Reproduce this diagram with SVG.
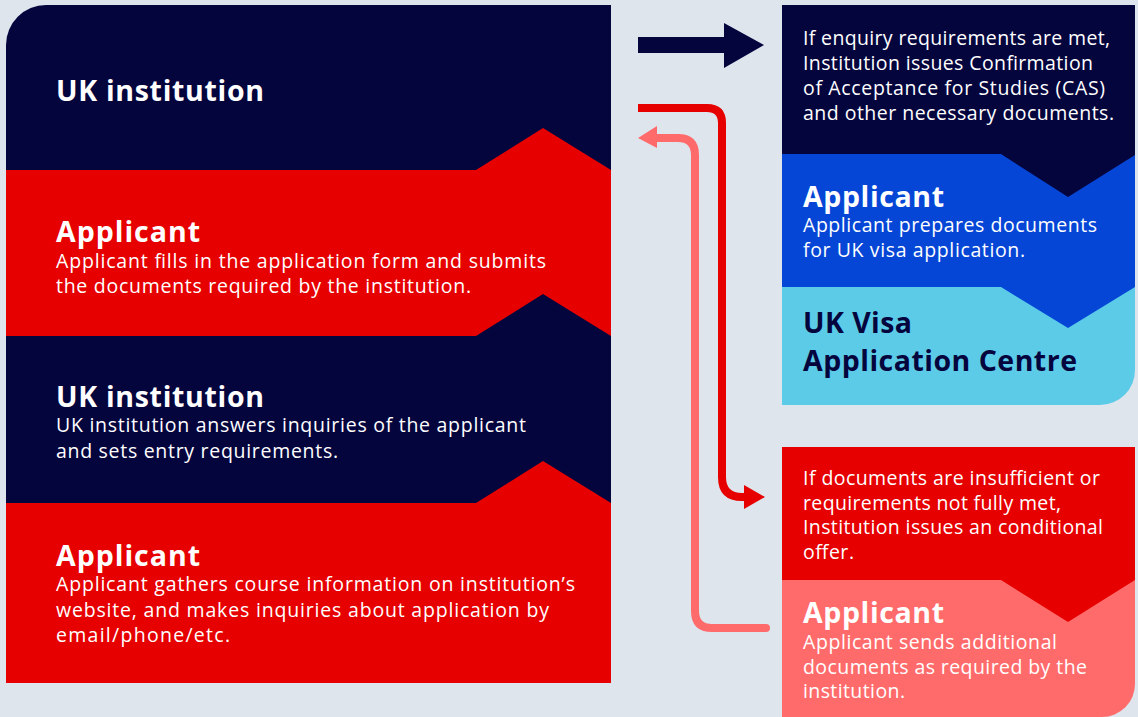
<svg xmlns="http://www.w3.org/2000/svg" width="1138" height="717" viewBox="0 0 1138 717">
<style>
.t{font-family:"Open Sans","Liberation Sans",sans-serif;}
.h{font-size:28.5px;font-weight:700;}
.b{font-size:19.5px;font-weight:400;}
.w{fill:#ffffff;}
.n{fill:#05053e;}
</style>
<rect width="1138" height="717" fill="#dee5ed"/>
<g id="left-column">
  <g id="node-uk-institution-top">
    <path d="M6,683 V45 A40,40 0 0 1 46,5 H611 V683 Z" fill="#05053e"/>
    <text class="t h w" x="56" y="101" textLength="208" lengthAdjust="spacing">UK institution</text>
  </g>
  <g id="node-applicant-submit">
    <path d="M6,170 H476 L543,128 L611,170 V336 L543,294 L476,336 H6 Z" fill="#e60000"/>
    <text class="t h w" x="56" y="242" textLength="144" lengthAdjust="spacing">Applicant</text>
    <text class="t b w" x="56" y="268" textLength="490" lengthAdjust="spacing">Applicant fills in the application form and submits</text>
    <text class="t b w" x="56" y="293" textLength="415" lengthAdjust="spacing">the documents required by the institution.</text>
  </g>
  <g id="node-uk-institution-answers">
    <text class="t h w" x="56" y="407" textLength="208" lengthAdjust="spacing">UK institution</text>
    <text class="t b w" x="56" y="432" textLength="470" lengthAdjust="spacing">UK institution answers inquiries of the applicant</text>
    <text class="t b w" x="56" y="457.5" textLength="282" lengthAdjust="spacing">and sets entry requirements.</text>
  </g>
  <g id="node-applicant-gathers">
    <path d="M6,503 H476 L543,461 L611,503 V683 H6 Z" fill="#e60000"/>
    <text class="t h w" x="56" y="566" textLength="144" lengthAdjust="spacing">Applicant</text>
    <text class="t b w" x="56" y="591" textLength="519" lengthAdjust="spacing">Applicant gathers course information on institution’s</text>
    <text class="t b w" x="56" y="616.5" textLength="493" lengthAdjust="spacing">website, and makes inquiries about application by</text>
    <text class="t b w" x="56" y="641.5" textLength="174" lengthAdjust="spacing">email/phone/etc.</text>
  </g>
</g>
<g id="right-top">
  <g id="node-visa-centre">
    <path d="M782,5 H1135 V370 A35,35 0 0 1 1100,405 H782 Z" fill="#5bcbe8"/>
    <text class="t h n" x="803" y="333" textLength="109" lengthAdjust="spacing">UK Visa</text>
    <text class="t h n" x="803" y="371" textLength="274" lengthAdjust="spacing">Application Centre</text>
  </g>
  <g id="node-applicant-prepares">
    <path d="M782,154 H1135 V287 L1068,328 L1001,287 H782 Z" fill="#0546d6"/>
    <text class="t h w" x="803" y="207" textLength="141" lengthAdjust="spacing">Applicant</text>
    <text class="t b w" x="803" y="232" textLength="294" lengthAdjust="spacing">Applicant prepares documents</text>
    <text class="t b w" x="803" y="257" textLength="222" lengthAdjust="spacing">for UK visa application.</text>
  </g>
  <g id="node-cas">
    <path d="M782,5 H1135 V155 L1068,197 L1001,154 H782 Z" fill="#05053e"/>
    <text class="t b w" x="803" y="45" textLength="307" lengthAdjust="spacing">If enquiry requirements are met,</text>
    <text class="t b w" x="803" y="70" textLength="290" lengthAdjust="spacing">Institution issues Confirmation</text>
    <text class="t b w" x="803" y="95" textLength="302" lengthAdjust="spacing">of Acceptance for Studies (CAS)</text>
    <text class="t b w" x="803" y="119.5" textLength="311" lengthAdjust="spacing">and other necessary documents.</text>
  </g>
</g>
<g id="right-bottom">
  <g id="node-applicant-sends">
    <path d="M782,447 H1135 V684 A33,33 0 0 1 1102,717 H782 Z" fill="#ff6b6b"/>
    <text class="t h w" x="803" y="623" textLength="141" lengthAdjust="spacing">Applicant</text>
    <text class="t b w" x="803" y="649" textLength="254" lengthAdjust="spacing">Applicant sends additional</text>
    <text class="t b w" x="803" y="674" textLength="284" lengthAdjust="spacing">documents as required by the</text>
    <text class="t b w" x="803" y="698" textLength="102" lengthAdjust="spacing">institution.</text>
  </g>
  <g id="node-conditional-offer">
    <path d="M782,447 H1135 V580 L1068,622 L1001,580 H782 Z" fill="#e60000"/>
    <text class="t b w" x="803" y="485" textLength="297" lengthAdjust="spacing">If documents are insufficient or</text>
    <text class="t b w" x="803" y="509.5" textLength="258" lengthAdjust="spacing">requirements not fully met,</text>
    <text class="t b w" x="803" y="534" textLength="300" lengthAdjust="spacing">Institution issues an conditional</text>
    <text class="t b w" x="803" y="558.5" textLength="51" lengthAdjust="spacing">offer.</text>
  </g>
</g>
<g id="connectors">
  <polygon points="638,37 724,37 724,23 764,45 724,68 724,53 638,53" fill="#05053e"/>
  <path d="M638,108 H707 Q722,108 722,123 V477 Q722,497 742,497 H748" fill="none" stroke="#e60000" stroke-width="8"/>
  <polygon points="744,485 765,497 744,509" fill="#e60000"/>
  <path d="M766,628 H712 Q695,628 695,611 V155 Q695,138 678,138 H655" fill="none" stroke="#ff6b6b" stroke-width="8" stroke-linecap="round"/>
  <polygon points="657,126 638,138 657,148" fill="#ff6b6b"/>
</g>
</svg>
